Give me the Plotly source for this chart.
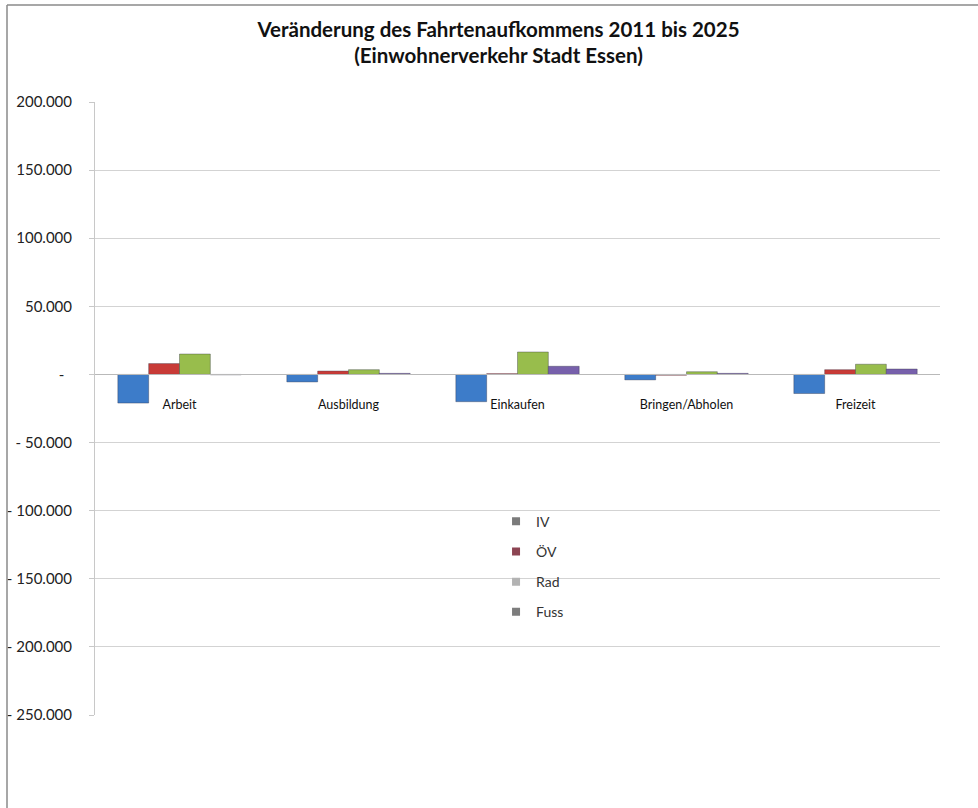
import plotly.graph_objects as go

# Trip purposes (categories) and change in trip volume 2011 -> 2025 per mode
categories = ["Arbeit", "Ausbildung", "Einkaufen", "Bringen/Abholen", "Freizeit"]
iv = [-21000, -5500, -20000, -4000, -14000]
oev = [8000, 2500, 600, -600, 3500]
rad = [15000, 3500, 16500, 2000, 7500]
fuss = [-300, 800, 6000, 800, 4000]

series_names = ["IV", "ÖV", "Rad", "Fuss"]
bar_colors = ["#3d7cc9", "#c83b37", "#98bd4c", "#7760ab"]
legend_colors = ["#7b7b7b", "#8c4452", "#b3b3b3", "#7d7d7d"]

tick_vals = [200000, 150000, 100000, 50000, 0, -50000, -100000, -150000, -200000, -250000]
tick_text = ["200.000", "150.000", "100.000", "50.000", "-\u00a0\u00a0", "- 50.000",
             "- 100.000", "- 150.000", "- 200.000", "- 250.000"]

FONT = "Lato"

fig = go.Figure()
for name, vals, col in zip(series_names, [iv, oev, rad, fuss], bar_colors):
    fig.add_trace(go.Bar(
        x=categories, y=vals, name=name, showlegend=False,
        marker=dict(color=col, line=dict(color="rgba(40,40,60,0.35)", width=1)),
    ))

# legend entries shown with muted square swatches
for name, col in zip(series_names, legend_colors):
    fig.add_trace(go.Scatter(
        x=[None], y=[None], mode="markers", name=name, legendgroup=name,
        marker=dict(symbol="square", size=8, color=col),
    ))

fig.update_layout(
    width=978, height=808,
    margin=dict(l=95, r=38, t=102, b=93),
    paper_bgcolor="white", plot_bgcolor="white",
    font=dict(family=FONT, color="#222222", size=13),
    barmode="group", bargap=0.27, bargroupgap=0,
    title=dict(
        text="Veränderung des Fahrtenaufkommens 2011 bis 2025<br>(Einwohnerverkehr Stadt Essen)",
        x=0.4775, xref="paper", xanchor="center", y=0.9545, yanchor="top",
        font=dict(family=FONT, size=20.5, color="#111111", weight="bold"),
    ),
    legend=dict(
        x=0.4746, y=0.3415, xanchor="left", yanchor="top",
        bgcolor="rgba(0,0,0,0)", tracegroupgap=9,
        font=dict(family=FONT, size=14, color="#333333"),
        itemwidth=30,
    ),
    xaxis=dict(
        anchor="free", position=250000 / 450000,
        showline=True, linecolor="#b9b9b9", linewidth=1,
        showgrid=False, ticks="", ticklabelstandoff=19,
        tickfont=dict(family=FONT, size=12.5, color="#111111"),
        automargin=False, fixedrange=True,
    ),
    yaxis=dict(
        range=[-250000, 200000], tickvals=tick_vals, ticktext=tick_text,
        showgrid=True, gridcolor="#d3d3d3", gridwidth=1,
        zeroline=False, showline=True, linecolor="#c8c8c8",
        ticks="outside", ticklen=5, tickcolor="#c8c8c8",
        ticklabelstandoff=14,
        tickfont=dict(family=FONT, size=15, color="#222222"),
        automargin=False, fixedrange=True,
    ),
    shapes=[
        # frame edges along the left and top of the chart area
        dict(type="line", xref="paper", yref="paper",
             x0=-88 / 845, x1=-88 / 845, y0=-93 / 613, y1=710 / 613,
             line=dict(color="#8a8a8a", width=1.5)),
        dict(type="line", xref="paper", yref="paper",
             x0=-88 / 845, x1=883 / 845, y0=710 / 613, y1=710 / 613,
             line=dict(color="#8a8a8a", width=1.5)),
    ],
)

fig.write_html("out.html")
